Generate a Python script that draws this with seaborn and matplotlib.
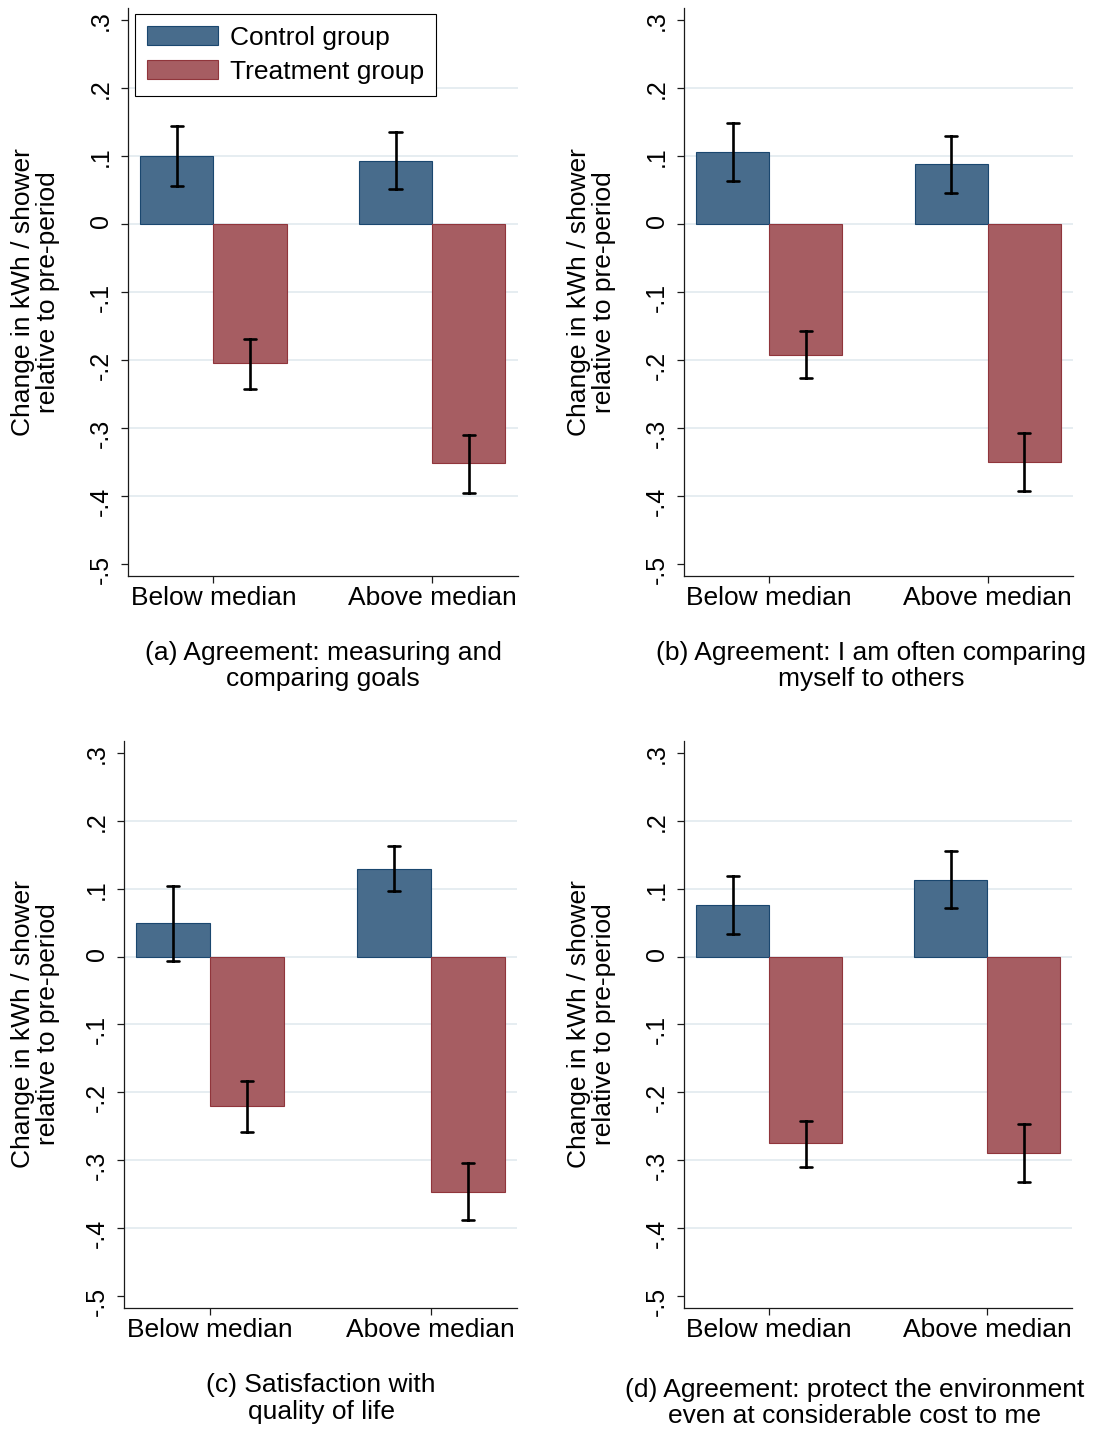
import numpy as np
import pandas as pd
import matplotlib
matplotlib.use("Agg")
import matplotlib.pyplot as plt
from matplotlib.ticker import FuncFormatter
import seaborn as sns

# ---------------------------------------------------------------------------
# Data: change in kWh per shower relative to the pre-period (point estimate,
# lower and upper end of the confidence interval) by median split.
# ---------------------------------------------------------------------------
groups = ["Below median", "Above median"]
arms = ["Control group", "Treatment group"]

a_control = [0.100, 0.093]
a_control_lo = [0.056, 0.051]
a_control_hi = [0.144, 0.135]
a_treat = [-0.205, -0.352]
a_treat_lo = [-0.242, -0.395]
a_treat_hi = [-0.169, -0.310]

b_control = [0.106, 0.088]
b_control_lo = [0.063, 0.046]
b_control_hi = [0.149, 0.130]
b_treat = [-0.193, -0.350]
b_treat_lo = [-0.227, -0.392]
b_treat_hi = [-0.158, -0.308]

c_control = [0.049, 0.129]
c_control_lo = [-0.007, 0.097]
c_control_hi = [0.104, 0.162]
c_treat = [-0.220, -0.346]
c_treat_lo = [-0.258, -0.387]
c_treat_hi = [-0.183, -0.304]

d_control = [0.076, 0.113]
d_control_lo = [0.033, 0.071]
d_control_hi = [0.119, 0.155]
d_treat = [-0.275, -0.289]
d_treat_lo = [-0.309, -0.332]
d_treat_hi = [-0.242, -0.246]

captions = {
    "a": "(a) Agreement: measuring and\ncomparing goals",
    "b": "(b) Agreement: I am often comparing\nmyself to others",
    "c": "(c) Satisfaction with\nquality of life",
    "d": "(d) Agreement: protect the environment\neven at considerable cost to me",
}
y_title = "Change in kWh / shower\nrelative to pre-period"
y_ticks = [-0.5, -0.4, -0.3, -0.2, -0.1, 0.0, 0.1, 0.2, 0.3]

panels = {
    "a": (a_control, a_control_lo, a_control_hi, a_treat, a_treat_lo, a_treat_hi),
    "b": (b_control, b_control_lo, b_control_hi, b_treat, b_treat_lo, b_treat_hi),
    "c": (c_control, c_control_lo, c_control_hi, c_treat, c_treat_lo, c_treat_hi),
    "d": (d_control, d_control_lo, d_control_hi, d_treat, d_treat_lo, d_treat_hi),
}


def long_frame(ctrl, ctrl_lo, ctrl_hi, trt, trt_lo, trt_hi):
    """Three rows per bar (lower, estimate, upper): the median gives the bar
    height and the full percentile range gives the interval."""
    rows = []
    for arm, est, lo, hi in ((arms[0], ctrl, ctrl_lo, ctrl_hi),
                             (arms[1], trt, trt_lo, trt_hi)):
        for g, e, l, h in zip(groups, est, lo, hi):
            for v in (l, e, h):
                rows.append({"group": g, "arm": arm, "value": v})
    return pd.DataFrame(rows)


# ---------------------------------------------------------------------------
# Style
# ---------------------------------------------------------------------------
sns.set_theme(style="white")
plt.rcParams["font.family"] = ["Liberation Sans", "DejaVu Sans"]
plt.rcParams["text.color"] = "black"
plt.rcParams["axes.labelcolor"] = "black"
plt.rcParams["xtick.color"] = "black"
plt.rcParams["ytick.color"] = "black"

fill_colors = ["#486c8c", "#a65d62"]
edge_colors = ["#1a476f", "#90353b"]
grid_color = "#e4ecf0"
FS = 19

W, H = 1097, 1430
fig = plt.figure(figsize=(W / 100, H / 100), dpi=100)
fig.patch.set_facecolor("white")

# axes frames in pixels: left, top, right, bottom
frames = {
    "a": (128.0, 8.0, 517.5, 576.0),
    "b": (684.0, 8.0, 1073.0, 576.0),
    "c": (124.3, 740.7, 516.7, 1308.3),
    "d": (684.0, 740.7, 1072.3, 1308.3),
}
caption_pos = {"a": (323, 666), "b": (871.5, 666), "c": (321, 1398.5), "d": (855, 1403)}
ylabel_center_px = {"a": 35.5, "b": 591.5, "c": 35.5, "d": 591.5}


def stata_fmt(v, _pos=None):
    if abs(v) < 1e-9:
        return "0"
    s = f"{v:.1f}"
    return s.replace("0.", ".")


for key, vals in panels.items():
    left, top, right, bottom = frames[key]
    ax = fig.add_axes([left / W, 1 - bottom / H, (right - left) / W, (bottom - top) / H])
    df = long_frame(*vals)

    sns.barplot(
        data=df, x="group", y="value", hue="arm",
        order=groups, hue_order=arms, palette=fill_colors, saturation=1,
        estimator="median", errorbar=("pi", 100),
        width=0.67, capsize=0.11,
        err_kws={"color": "black", "linewidth": 1.9},
        linewidth=0.8, legend=(key == "a"), ax=ax,
    )
    for container, ec in zip(ax.containers, edge_colors):
        for bar in container:
            bar.set_edgecolor(ec)

    ax.set_xlim(-0.39, 1.39)
    ax.set_ylim(-0.5176, 0.3176)
    ax.set_yticks(y_ticks)
    ax.yaxis.set_major_formatter(FuncFormatter(stata_fmt))

    ax.set_axisbelow(True)
    ax.grid(True, axis="y", color=grid_color, linewidth=1.3)
    ax.grid(False, axis="x")
    glines = ax.get_ygridlines()
    glines[0].set_visible(False)
    glines[-1].set_visible(False)

    for side in ("top", "right"):
        ax.spines[side].set_visible(False)
    for side in ("left", "bottom"):
        ax.spines[side].set_color("#1a1a1a")
        ax.spines[side].set_linewidth(0.9)

    ax.tick_params(axis="both", which="major", left=True, bottom=True,
                   direction="out", length=5, width=0.9, color="#1a1a1a",
                   labelcolor="black")
    ax.tick_params(axis="x", labelsize=FS, pad=2)
    ax.tick_params(axis="y", labelsize=18, labelrotation=90, pad=6)

    ax.set_xlabel("")
    ax.set_ylabel(y_title, fontsize=FS, linespacing=1.1, ha="center", va="center",
                  color="black")
    ax.yaxis.set_label_coords((ylabel_center_px[key] - left) / (right - left), 0.5)

    if key == "a":
        old = ax.get_legend()
        handles = list(old.legend_handles)
        labels = [t.get_text() for t in old.texts]
        for h, fc, ec in zip(handles, fill_colors, edge_colors):
            h.set_facecolor(fc)
            h.set_edgecolor(ec)
            h.set_linewidth(0.8)
        old.remove()
        leg = ax.legend(
            handles, labels, loc="upper left",
            bbox_to_anchor=((135 - left) / (right - left), (bottom - 14) / (bottom - top)),
            borderaxespad=0, fontsize=FS, frameon=True, fancybox=False,
            handlelength=2.7, handleheight=0.76, handletextpad=0.45,
            labelspacing=0.38, borderpad=0.45, labelcolor="black",
        )
        leg.get_frame().set_edgecolor("black")
        leg.get_frame().set_linewidth(0.8)
        leg.get_frame().set_alpha(1)

    cx, cy = caption_pos[key]
    fig.text(cx / W, 1 - cy / H, captions[key], ha="center", va="center",
             fontsize=FS, linespacing=1.15, multialignment="center", color="black")

fig.savefig("out.png", dpi=100, facecolor="white")
